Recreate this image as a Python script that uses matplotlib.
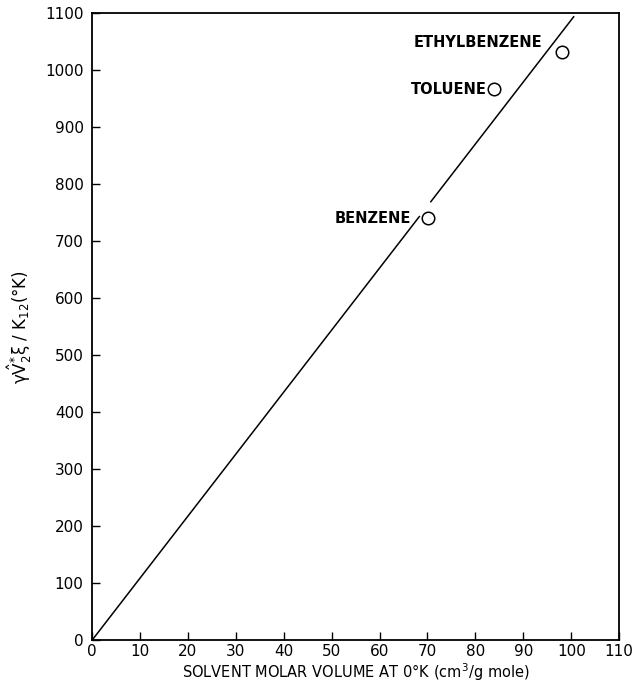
import numpy as np
import matplotlib
matplotlib.use("Agg")
import matplotlib.pyplot as plt

# solvents and their measured values
solvents = ["BENZENE", "TOLUENE", "ETHYLBENZENE"]
molar_volume = [70.1, 83.9, 98.1]          # cm^3/g mole at 0 K
reduced_param = [740, 966, 1031]           # gamma V2* xi / K12 (K)

# straight-line correlation through the origin
slope = 10.88
line_segments = [(0, 68.4), (70.6, 100.6)]  # line is broken near the benzene point

# label offsets (points) relative to each point
label_offsets = [(-12, 0), (-5, 0), (-14, 7)]

plt.rcParams["font.family"] = ["DejaVu Sans"]
plt.rcParams["mathtext.default"] = "regular"

fig = plt.figure(figsize=(6.39, 6.87), dpi=100)
ax = fig.add_axes([0.144, 0.068, 0.825, 0.913])

for x0, x1 in line_segments:
    xs = np.array([x0, x1])
    ax.plot(xs, slope * xs, color="black", lw=1.1, solid_capstyle="butt")

ax.plot(molar_volume, reduced_param, "o", mfc="white", mec="black",
        mew=1.1, ms=9, zorder=3)

for name, x, y, off in zip(solvents, molar_volume, reduced_param, label_offsets):
    ax.annotate(name, (x, y), xytext=off, textcoords="offset points",
                ha="right", va="center", fontsize=10.5, fontweight="bold")

ax.set_xlim(0, 110)
ax.set_ylim(0, 1100)
ax.set_xticks(np.arange(0, 111, 10))
ax.set_yticks(np.arange(0, 1101, 100))
ax.tick_params(direction="in", length=6, width=1, labelsize=11)
ax.tick_params(axis="x", pad=3)
ax.tick_params(axis="y", pad=6)
for sp in ax.spines.values():
    sp.set_linewidth(1.3)

ax.set_xlabel(r"SOLVENT MOLAR VOLUME AT 0°K (cm$^3$/g mole)", fontsize=10.5,
              labelpad=1)
ax.set_ylabel(r"$\gamma\hat{V}_2^{*}\xi$ / K$_{12}$(°K)", fontsize=12,
              labelpad=8)

fig.savefig("out.png", dpi=100)
